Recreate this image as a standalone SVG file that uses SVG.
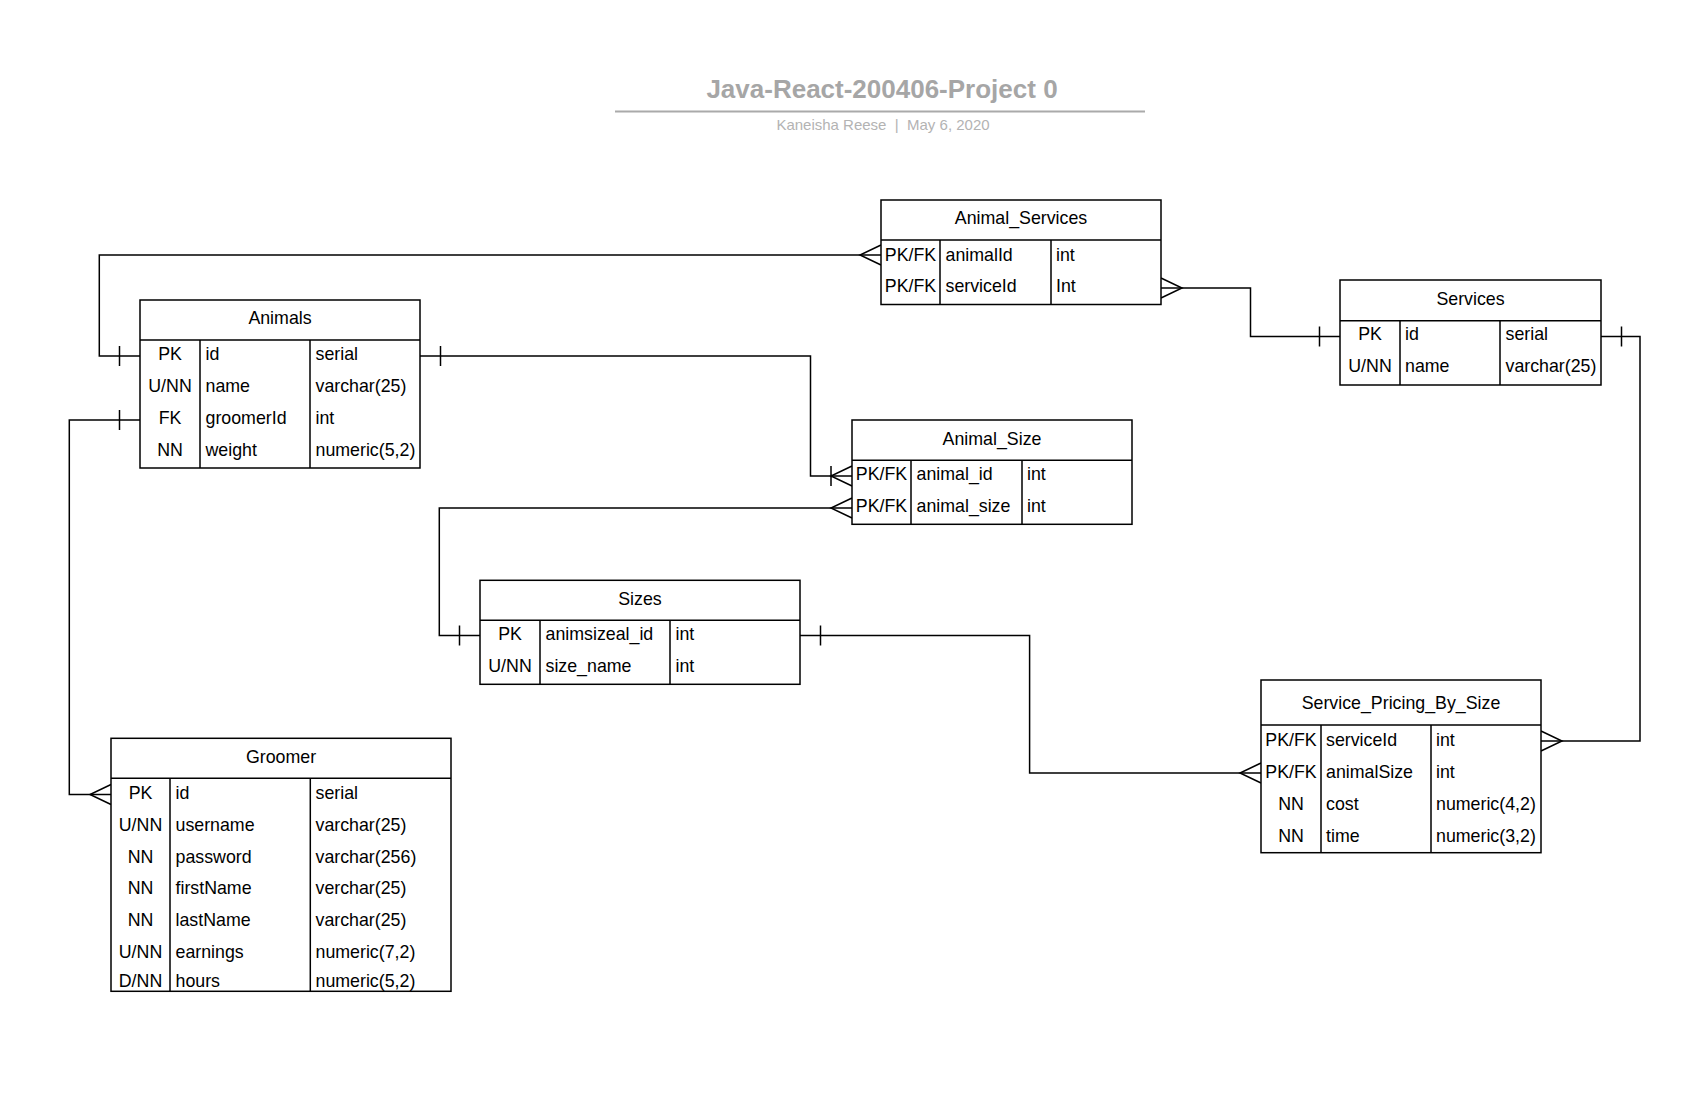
<svg xmlns="http://www.w3.org/2000/svg" width="1703" height="1116" viewBox="0 0 1703 1116">
<style>
  text { font-family: "Liberation Sans", Arial, sans-serif; fill: #000; }
  .t { font-size: 17.8px; }
  .c { text-anchor: middle; }
  .box { fill: #fff; stroke: #000; stroke-width: 1.5; }
  .ln { fill: none; stroke: #000; stroke-width: 1.5; }
  .conn path { fill: none; stroke: #000; stroke-width: 1.5; }
  .title { font-size: 26px; font-weight: bold; fill: #a6a6a6; text-anchor: middle; }
  .sub { font-size: 15px; fill: #b3b3b3; text-anchor: middle; white-space: pre; }
</style>
<defs>
  <marker id="one" markerUnits="userSpaceOnUse" markerWidth="40" markerHeight="40" viewBox="-30 -20 40 40" refX="0" refY="0" orient="auto-start-reverse" overflow="visible">
    <path d="M-20.5,-10 V10" fill="none" stroke="#000" stroke-width="1.5"/>
  </marker>
  <marker id="many" markerUnits="userSpaceOnUse" markerWidth="40" markerHeight="40" viewBox="-30 -20 40 40" refX="0" refY="0" orient="auto-start-reverse" overflow="visible">
    <path d="M0,-10 L-21,0 L0,10" fill="none" stroke="#000" stroke-width="1.5"/>
  </marker>
  <marker id="onemany" markerUnits="userSpaceOnUse" markerWidth="40" markerHeight="40" viewBox="-30 -20 40 40" refX="0" refY="0" orient="auto-start-reverse" overflow="visible">
    <path d="M0,-10 L-21,0 L0,10 M-21,-10 V10" fill="none" stroke="#000" stroke-width="1.5"/>
  </marker>
</defs>
<rect width="1703" height="1116" fill="#fff"/>

<g id="title">
  <text class="title" x="882" y="98">Java-React-200406-Project 0</text>
  <line x1="615" y1="111.5" x2="1145" y2="111.5" stroke="#aaaaaa" stroke-width="2"/>
  <text class="sub" x="883" y="130" xml:space="preserve">Kaneisha Reese  |  May 6, 2020</text>
</g>

<g class="conn" id="connectors">
  <path d="M140,356 H99.3 V255 H881" marker-start="url(#one)" marker-end="url(#many)"/>
  <path d="M1161,288 H1250.5 V336.5 H1340" marker-start="url(#many)" marker-end="url(#one)"/>
  <path d="M420,356 H810.5 V476 H852" marker-start="url(#one)" marker-end="url(#onemany)"/>
  <path d="M852,508 H439.3 V635.5 H480" marker-start="url(#many)" marker-end="url(#one)"/>
  <path d="M140,420 H69.3 V794.5 H111" marker-start="url(#one)" marker-end="url(#many)"/>
  <path d="M1601,336.5 H1640 V741 H1541" marker-start="url(#one)" marker-end="url(#many)"/>
  <path d="M800,635.5 H1029.6 V773 H1261" marker-start="url(#one)" marker-end="url(#many)"/>
</g>

<g id="animals">
  <rect class="box" x="140" y="300" width="280" height="168"/>
  <path class="ln" d="M140,340 H420 M200,340 V468 M310,340 V468"/>
  <text class="t c" x="280" y="324">Animals</text>
  <text class="t c" x="170" y="360">PK</text><text class="t" x="205.5" y="360">id</text><text class="t" x="315.5" y="360">serial</text>
  <text class="t c" x="170" y="392">U/NN</text><text class="t" x="205.5" y="392">name</text><text class="t" x="315.5" y="392">varchar(25)</text>
  <text class="t c" x="170" y="424">FK</text><text class="t" x="205.5" y="424">groomerId</text><text class="t" x="315.5" y="424">int</text>
  <text class="t c" x="170" y="456">NN</text><text class="t" x="205.5" y="456">weight</text><text class="t" x="315.5" y="456">numeric(5,2)</text>
</g>

<g id="animal_services">
  <rect class="box" x="881" y="200" width="280" height="104.5"/>
  <path class="ln" d="M881,240 H1161 M940,240 V304.5 M1051,240 V304.5"/>
  <text class="t c" x="1021" y="224.3">Animal_Services</text>
  <text class="t c" x="910.5" y="260.7">PK/FK</text><text class="t" x="945.5" y="260.7">animalId</text><text class="t" x="1056" y="260.7">int</text>
  <text class="t c" x="910.5" y="291.7">PK/FK</text><text class="t" x="945.5" y="291.7">serviceId</text><text class="t" x="1056" y="291.7">Int</text>
</g>

<g id="services">
  <rect class="box" x="1340" y="280" width="261" height="105"/>
  <path class="ln" d="M1340,320.7 H1601 M1400,320.7 V385 M1500,320.7 V385"/>
  <text class="t c" x="1470.5" y="304.5">Services</text>
  <text class="t c" x="1370" y="340">PK</text><text class="t" x="1405" y="340">id</text><text class="t" x="1505.5" y="340">serial</text>
  <text class="t c" x="1370" y="371.7">U/NN</text><text class="t" x="1405" y="371.7">name</text><text class="t" x="1505.5" y="371.7">varchar(25)</text>
</g>

<g id="animal_size">
  <rect class="box" x="852" y="420" width="280" height="104.3"/>
  <path class="ln" d="M852,460.3 H1132 M911,460.3 V524.3 M1022,460.3 V524.3"/>
  <text class="t c" x="992" y="444.5">Animal_Size</text>
  <text class="t c" x="881.5" y="480">PK/FK</text><text class="t" x="916.5" y="480">animal_id</text><text class="t" x="1027" y="480">int</text>
  <text class="t c" x="881.5" y="511.7">PK/FK</text><text class="t" x="916.5" y="511.7">animal_size</text><text class="t" x="1027" y="511.7">int</text>
</g>

<g id="sizes">
  <rect class="box" x="480" y="580.3" width="320" height="104"/>
  <path class="ln" d="M480,620.3 H800 M540,620.3 V684.3 M670,620.3 V684.3"/>
  <text class="t c" x="640" y="604.5">Sizes</text>
  <text class="t c" x="510" y="640">PK</text><text class="t" x="545.5" y="640">animsizeal_id</text><text class="t" x="675.5" y="640">int</text>
  <text class="t c" x="510" y="671.7">U/NN</text><text class="t" x="545.5" y="671.7">size_name</text><text class="t" x="675.5" y="671.7">int</text>
</g>

<g id="groomer">
  <rect class="box" x="111" y="738.3" width="340" height="253"/>
  <path class="ln" d="M111,778.3 H451 M170,778.3 V991.3 M310.3,778.3 V991.3"/>
  <text class="t c" x="281" y="762.5">Groomer</text>
  <text class="t c" x="140.5" y="799.3">PK</text><text class="t" x="175.5" y="799.3">id</text><text class="t" x="315.5" y="799.3">serial</text>
  <text class="t c" x="140.5" y="831">U/NN</text><text class="t" x="175.5" y="831">username</text><text class="t" x="315.5" y="831">varchar(25)</text>
  <text class="t c" x="140.5" y="862.6">NN</text><text class="t" x="175.5" y="862.6">password</text><text class="t" x="315.5" y="862.6">varchar(256)</text>
  <text class="t c" x="140.5" y="894.3">NN</text><text class="t" x="175.5" y="894.3">firstName</text><text class="t" x="315.5" y="894.3">verchar(25)</text>
  <text class="t c" x="140.5" y="926">NN</text><text class="t" x="175.5" y="926">lastName</text><text class="t" x="315.5" y="926">varchar(25)</text>
  <text class="t c" x="140.5" y="957.6">U/NN</text><text class="t" x="175.5" y="957.6">earnings</text><text class="t" x="315.5" y="957.6">numeric(7,2)</text>
  <text class="t c" x="140.5" y="987">D/NN</text><text class="t" x="175.5" y="987">hours</text><text class="t" x="315.5" y="987">numeric(5,2)</text>
</g>

<g id="service_pricing_by_size">
  <rect class="box" x="1261" y="680" width="280" height="172.7"/>
  <path class="ln" d="M1261,725 H1541 M1321,725 V852.7 M1431,725 V852.7"/>
  <text class="t c" x="1401" y="709.3">Service_Pricing_By_Size</text>
  <text class="t c" x="1291" y="746">PK/FK</text><text class="t" x="1326" y="746">serviceId</text><text class="t" x="1436" y="746">int</text>
  <text class="t c" x="1291" y="777.9">PK/FK</text><text class="t" x="1326" y="777.9">animalSize</text><text class="t" x="1436" y="777.9">int</text>
  <text class="t c" x="1291" y="809.8">NN</text><text class="t" x="1326" y="809.8">cost</text><text class="t" x="1436" y="809.8">numeric(4,2)</text>
  <text class="t c" x="1291" y="841.7">NN</text><text class="t" x="1326" y="841.7">time</text><text class="t" x="1436" y="841.7">numeric(3,2)</text>
</g>
</svg>
